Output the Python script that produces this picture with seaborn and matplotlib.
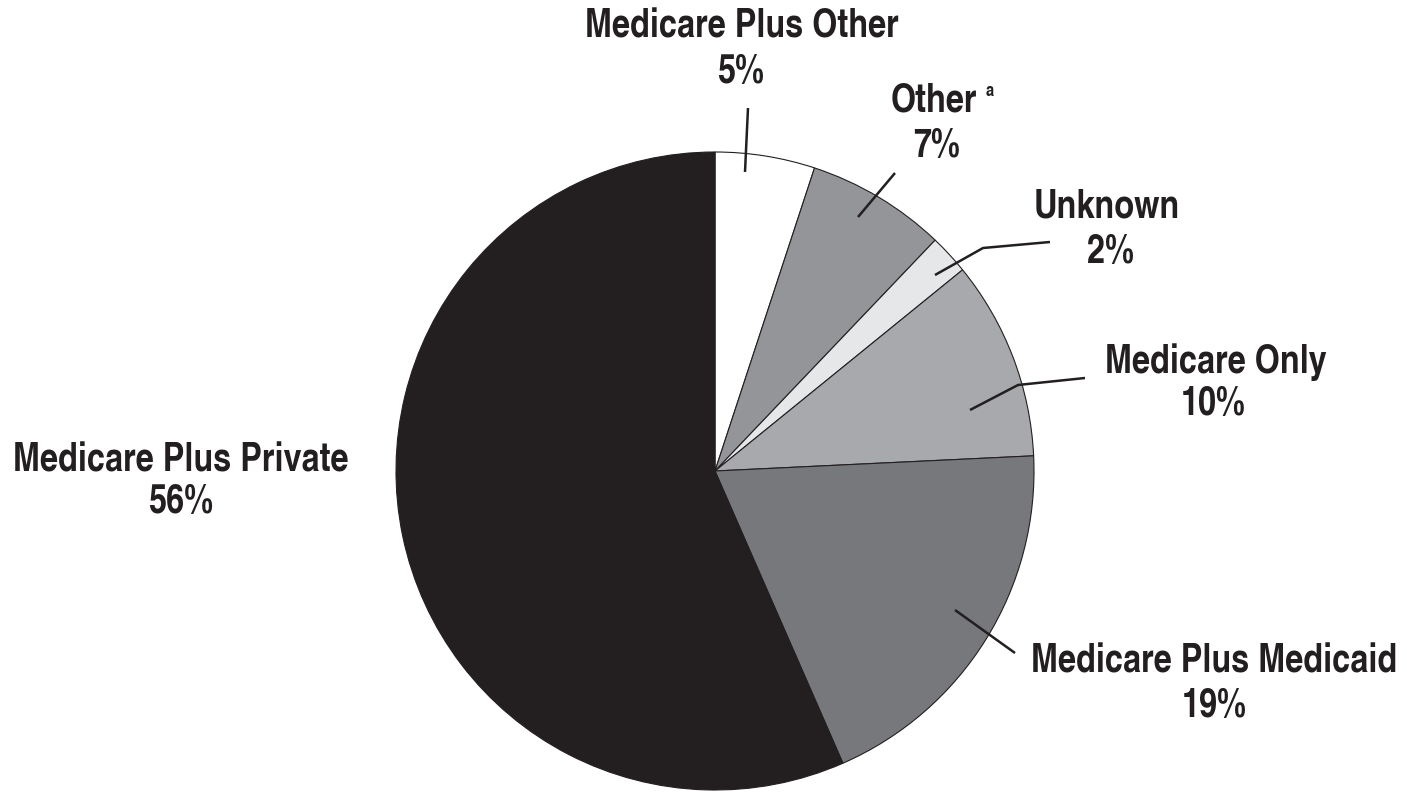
import matplotlib
matplotlib.use("Agg")
import matplotlib.pyplot as plt
import seaborn as sns

sns.set_theme(style="white")
plt.rcParams["font.family"] = ["TeX Gyre Heros Cn", "DejaVu Sans"]

# ---- data ----
categories = ["Medicare Plus Other", "Other", "Unknown", "Medicare Only",
              "Medicare Plus Medicaid", "Medicare Plus Private"]
shares = [5, 7, 2, 10, 19, 56]
pct_labels = ["5%", "7%", "2%", "10%", "19%", "56%"]
colors = ["#ffffff", "#939598", "#e6e7e8", "#a7a9ac", "#77787b", "#231f20"]

W, H = 1407, 794
fig = plt.figure(figsize=(W / 100, H / 100), dpi=100)
ax = fig.add_axes([0, 0, 1, 1])
ax.set_axis_off()

def Y(py):
    return H - py

cx, cy, r = 715, 471, 319
ax.pie(shares, colors=colors, startangle=90, counterclock=False,
       center=(cx, Y(cy)), radius=r, normalize=True,
       wedgeprops=dict(edgecolor="#231f20", linewidth=0.8))
ax.set_xlim(0, W)
ax.set_ylim(0, H)
ax.set_aspect("equal")

# label layout (pixel positions): name line, pct line
label_pos = [
    ((742, 27), (741, 72)),
    ((934, 101), (937, 146)),
    ((1107, 207), (1110, 253)),
    ((1216, 362), (1213, 405)),
    ((1214, 662), (1214, 706)),
    ((181, 461), (181, 503)),
]
leaders = [
    [(745, 172), (748, 108)],
    [(858, 217), (895, 173)],
    [(935, 275), (983, 248), (1050, 242)],
    [(970, 410), (1018, 385), (1085, 378)],
    [(955, 610), (1015, 653)],
    None,
]

fs = 28.5
for name, pct, (p1, p2), ld in zip(categories, pct_labels, label_pos, leaders):
    ax.text(p1[0], Y(p1[1]), name, ha="center", va="center", fontsize=fs,
            fontweight="bold", color="#231f20")
    ax.text(p2[0], Y(p2[1]), pct, ha="center", va="center", fontsize=fs,
            fontweight="bold", color="#231f20")
    if ld:
        ax.plot([p[0] for p in ld], [Y(p[1]) for p in ld], color="#231f20",
                lw=1.8, solid_capstyle="butt")

# superscript marker for "Other"
ax.text(990, Y(91), "a", ha="center", va="center", fontsize=13,
        fontweight="bold", color="#231f20")

fig.savefig("out.png", dpi=100, facecolor="white")
